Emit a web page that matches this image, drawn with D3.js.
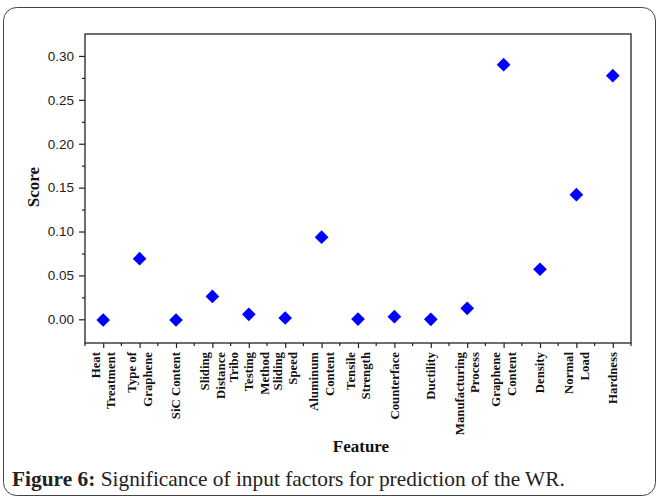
<!DOCTYPE html>
<html><head><meta charset="utf-8">
<script src="https://cdn.jsdelivr.net/npm/d3@7"></script>
<style>body{margin:0;background:#fff}</style>
</head><body>
<svg id="c" width="659" height="499"></svg>
<script>
const categories = ["Heat Treatment","Type of Graphene","SiC Content","Sliding Distance","Tribo Testing Method","Sliding Speed","Aluminum Content","Tensile Strength","Counterface","Ductility","Manufacturing Process","Graphene Content","Density","Normal Load","Hardness"];
const tickLabels = [["Heat","Treatment"],["Type of","Graphene"],["SiC Content"],["Sliding","Distance"],["Tribo","Testing","Method"],["Sliding","Speed"],["Aluminum","Content"],["Tensile","Strength"],["Counterface"],["Ductility"],["Manufacturing","Process"],["Graphene","Content"],["Density"],["Normal","Load"],["Hardness"]];
const scores = [-0.0008,0.069,-0.0008,0.026,0.0057,0.0015,0.0935,0.0003,0.003,0.000,0.0125,0.290,0.057,0.142,0.2775];
const yTicks = [0,0.05,0.10,0.15,0.20,0.25,0.30];
const yMinorTicks = [0.025,0.075,0.125,0.175,0.225,0.275];
const yLabel = "Score";
const xLabel = "Feature";
const captionBold = "Figure 6:";
const captionText = " Significance of input factors for prediction of the WR.";

const svg = d3.select("#c");
const L = 85, R = 631, T = 34, B = 343;

// outer frame
svg.append("rect").attr("x",3.5).attr("y",7.5).attr("width",652).attr("height",488)
  .attr("rx",13).attr("fill","none").attr("stroke","#444").attr("stroke-width",1);

const x = d3.scalePoint().domain(categories).range([L,R]).padding(0.5);
const y = d3.scaleLinear().domain([-0.027,0.325]).range([B,T]);
const step = x.step();

// y axis
const gy = svg.append("g").attr("transform",`translate(${L},0)`)
  .call(d3.axisLeft(y).tickValues(yTicks).tickFormat(d3.format(".2f")).tickSize(6).tickPadding(5));
gy.select(".domain").remove();
gy.selectAll("text").attr("font-family","Liberation Sans, Arial, sans-serif").attr("font-size",13.5).attr("fill","#222");
gy.selectAll("line").attr("stroke","#222").attr("stroke-width",1.2);
const gym = svg.append("g").attr("transform",`translate(${L},0)`)
  .call(d3.axisLeft(y).tickValues(yMinorTicks).tickFormat("").tickSize(3));
gym.select(".domain").remove();
gym.selectAll("line").attr("stroke","#222").attr("stroke-width",1.2);

// x axis
const gx = svg.append("g").attr("transform",`translate(0,${B})`)
  .call(d3.axisBottom(x).tickFormat("").tickSize(5));
gx.select(".domain").remove();
gx.selectAll("line").attr("stroke","#222").attr("stroke-width",1.2);
const minorX = categories.map(c => x(c) - step/2).concat([x(categories[categories.length-1]) + step/2]);
svg.append("g").selectAll("line").data(minorX).join("line")
  .attr("x1",d=>d).attr("x2",d=>d).attr("y1",B).attr("y2",B+3)
  .attr("stroke","#222").attr("stroke-width",1.2);

// box
svg.append("rect").attr("x",L).attr("y",T).attr("width",R-L).attr("height",B-T)
  .attr("fill","none").attr("stroke","#222").attr("stroke-width",1.3);

// x tick labels
const lineGap = 15.5;
categories.forEach((c,i) => {
  const lines = tickLabels[i];
  const n = lines.length;
  lines.forEach((t,j) => {
    const cx = x(c) + (j - (n-1)/2) * lineGap;
    svg.append("text")
      .attr("transform",`translate(${cx},352) rotate(-90)`)
      .attr("text-anchor","end").attr("dy","0.35em")
      .attr("font-family","Liberation Serif, Times New Roman, serif")
      .attr("font-weight","bold").attr("font-size",12.8).attr("fill","#111")
      .text(t);
  });
});

// axis titles
svg.append("text").attr("transform","translate(33,187) rotate(-90)")
  .attr("text-anchor","middle").attr("dy","0.35em")
  .attr("font-family","Liberation Serif, Times New Roman, serif")
  .attr("font-weight","bold").attr("font-size",17).attr("fill","#111").text(yLabel);
svg.append("text").attr("x",361).attr("y",452).attr("text-anchor","middle")
  .attr("font-family","Liberation Serif, Times New Roman, serif")
  .attr("font-weight","bold").attr("font-size",17).attr("fill","#111").text(xLabel);

// markers
svg.append("g").selectAll("path").data(categories).join("path")
  .attr("d", d3.symbol(d3.symbolSquare, 94)())
  .attr("transform",(c,i)=>`translate(${x(c)},${y(scores[i])}) rotate(45)`)
  .attr("fill","#0000ff");

// caption (condensed horizontally to fit the reference width)
const capG = svg.append("g");
const cap = capG.append("text").attr("x",0).attr("y",0)
  .attr("font-family","Liberation Serif, Times New Roman, serif").attr("font-size",20.5).attr("fill","#222");
cap.append("tspan").attr("font-weight","bold").text(captionBold);
cap.append("tspan").text(captionText);
const w = cap.node().getComputedTextLength();
capG.attr("transform",`translate(12,486) scale(${553 / w},1)`);
</script>
</body></html>
